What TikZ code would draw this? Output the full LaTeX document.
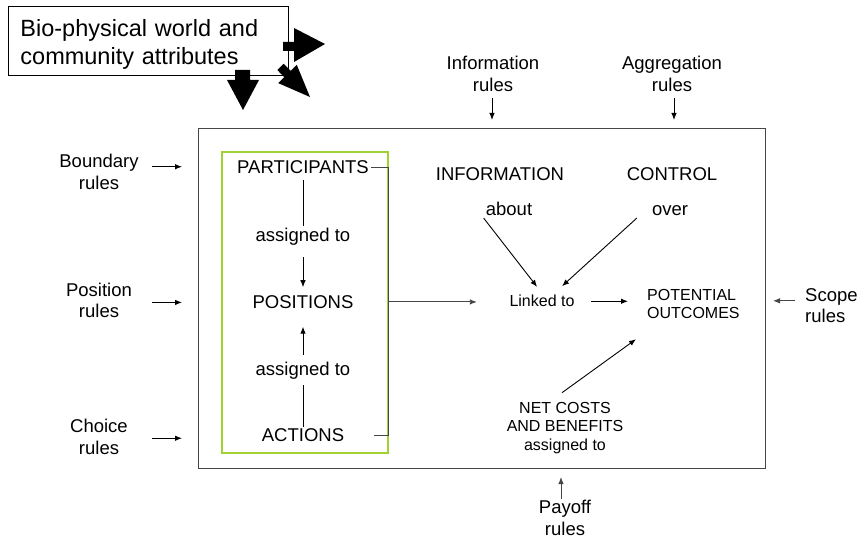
\documentclass[tikz,border=0pt]{standalone}
\usepackage{fontspec}
\setmainfont{Liberation Sans}
\usetikzlibrary{arrows.meta}
\definecolor{limeline}{RGB}{160,210,50}
\definecolor{darkline}{RGB}{70,70,70}

\begin{document}
\begin{tikzpicture}[x=1pt, y=-1pt,
    big/.style={font=\fontsize{18.5}{21.5}\selectfont, inner sep=2pt},
    small/.style={font=\fontsize{16}{18.5}\selectfont, inner sep=2pt},
    rulebox/.style={big, align=center, anchor=north},
    arr/.style={-{Latex[length=7pt,width=5.5pt]}, line width=0.9pt},
    line/.style={line width=0.9pt}]
  \useasboundingbox (0,0) rectangle (860,540);

  % arena frame and the participants group
  \node[draw=darkline, line width=1pt, anchor=north west, minimum width=567pt, minimum height=340pt, inner sep=0] (frame) at (198,128) {};
  \node[draw=limeline, line width=1.6pt, anchor=north west, minimum width=166pt, minimum height=301pt, inner sep=0] (grp) at (221,151) {};

  % outside world and its block arrows
  \node[draw, fill=white, line width=0.9pt, anchor=north west, minimum width=280pt, minimum height=69pt, text width=256pt, text height=23pt, inner xsep=12pt, inner ysep=0pt, align=left, font=\fontsize{23.5}{28}\selectfont] (bio) at (8,6) {Bio-physical world and\\community attributes};
  \fill (283,42) -- (294,42) -- (294,28) -- (325,44) -- (294,62) -- (294,51) -- (283,51) -- cycle;
  \fill (235,70) -- (250,70) -- (250,80) -- (259,80) -- (243,110) -- (227,80) -- (235,80) -- cycle;
  \fill (283.7,63.8) -- (290.7,70.8) -- (296.8,64.9) -- (310,97) -- (278.2,83.1) -- (284.3,77.2) -- (277.3,70) -- cycle;

  % rules around the frame
  \node[rulebox] (bound) at (99,152) {Boundary\\rules};
  \node[rulebox] (posr) at (99,280.7) {Position\\rules};
  \node[rulebox] (choice) at (99,417) {Choice\\rules};
  \node[rulebox] (info) at (493,54) {Information\\rules};
  \node[rulebox] (aggr) at (672,54) {Aggregation\\rules};
  \node[rulebox] (payoff) at (565,498) {Payoff\\rules};
  \node[big, align=left, anchor=north west] (scope) at (803,286.3) {Scope\\rules};

  \draw[arr] ([shift={(53,-5)}]bound.center) -- ++(30,0);
  \draw[arr] ([shift={(53,2)}]posr.center) -- ++(30,0);
  \draw[arr] ([shift={(53,1.5)}]choice.center) -- ++(30,0);
  \draw[arr] ([shift={(-1,4.5)}]info.south) -- ++(0,22);
  \draw[arr] ([shift={(2,4.5)}]aggr.south) -- ++(0,22);
  \draw[arr, darkline] ([shift={(-4,1)}]payoff.north) -- ++(0,-22);
  \draw[arr, darkline] ([shift={(-8,-5)}]scope.west) -- ++(-22,0);

  % participants, positions, actions
  \node[big, anchor=base] (part) at (303,173.6) {PARTICIPANTS};
  \node[big, anchor=base] (asg1) at (303,242) {assigned to};
  \node[big, anchor=base] (pos) at (303,308.3) {POSITIONS};
  \node[big, anchor=base] (asg2) at (303,375.5) {assigned to};
  \node[big, anchor=base] (act) at (303,441.7) {ACTIONS};

  \draw[line, shorten <=4pt] (part) -- (asg1);
  \draw[arr, shorten <=9pt, shorten >=6pt] (asg1) -- (pos);
  \draw[arr, shorten <=5pt, shorten >=16pt] (asg2) -- (pos);
  \draw[line, shorten >=3.5pt] (act) -- (asg2);
  \draw[line, darkline] (part.east) -- (part.east -| grp.east) -- (act.east -| grp.east) -- ++(-15,0);

  % information, control and outcomes
  \node[big, anchor=base] (infoc) at (500,180.7) {INFORMATION};
  \node[big, anchor=base] (ctrl) at (672,180.7) {CONTROL};
  \node[big, anchor=base] (about) at (509,215.7) {about};
  \node[big, anchor=base] (over) at (670,215.7) {over};
  \node[small, anchor=base] (link) at (542,307) {Linked to};
  \node[small, align=left, anchor=north west] (pot) at (645,287) {POTENTIAL\\OUTCOMES};
  \node[small, align=center, anchor=north] (net) at (565,399.7) {NET COSTS\\AND BENEFITS\\assigned to};

  \draw[arr, darkline, shorten >=30.5pt] (pos -| grp.east) -- (pos -| link.west);
  \draw[arr, shorten <=14.5pt, shorten >=17pt] (link.east) -- (link.east -| pot.west);
  \draw[arr, shorten >=8pt] (about.south west) -- (link.north);
  \draw[arr] ([xshift=-13pt]over.south west) -- ([shift={(20,-7)}]link.north);
  \draw[arr] ([shift={(-3,-7)}]net.north) -- ([shift={(-9,18)}]pot.south west);
\end{tikzpicture}
\end{document}
